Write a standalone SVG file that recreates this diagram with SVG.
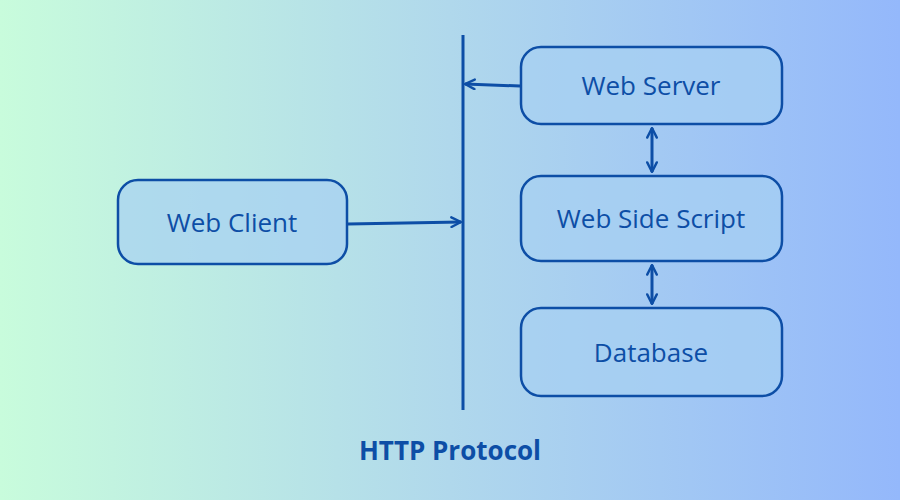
<svg xmlns="http://www.w3.org/2000/svg" width="900" height="500" viewBox="0 0 900 500">
<defs>
<linearGradient id="bg" x1="0" y1="0" x2="1" y2="0"><stop offset="0" stop-color="#c8fcdc"/><stop offset="0.5" stop-color="#b0d8ec"/><stop offset="1" stop-color="#94b8fb"/></linearGradient>
<marker id="ah" viewBox="0 0 10 10" refX="9" refY="5" markerWidth="4" markerHeight="4" orient="auto-start-reverse"><path d="M1 1 L9 5 L1 9" fill="none" stroke="#0d4ea6" stroke-width="2" stroke-linecap="round" stroke-linejoin="round"/></marker>
<style>
.box{fill:#a6d0f2;fill-opacity:0.7;stroke:#0d4ea6;stroke-width:2.5}
.t{font-family:"Open Sans","Liberation Sans",sans-serif;font-size:26px;fill:#0d4ea6;text-anchor:middle;dominant-baseline:central}
.c{stroke:#0d4ea6;stroke-width:3;fill:none}
</style>
</defs>
<rect width="900" height="500" fill="url(#bg)"/>
<g id="connectors">
<line class="c" x1="463" y1="35" x2="463" y2="410"/>
<line class="c" x1="520" y1="86" x2="465" y2="84" marker-end="url(#ah)"/>
<line class="c" x1="348" y1="224" x2="461" y2="222" marker-end="url(#ah)"/>
<line class="c" x1="652" y1="128" x2="652" y2="172" marker-start="url(#ah)" marker-end="url(#ah)"/>
<line class="c" x1="652" y1="265" x2="652" y2="304" marker-start="url(#ah)" marker-end="url(#ah)"/>
</g>
<g id="web-server"><rect class="box" x="521" y="47" width="261" height="77" rx="20"/><text class="t" x="651" y="85">Web Server</text></g>
<g id="web-side-script"><rect class="box" x="521" y="176" width="261" height="85" rx="20"/><text class="t" x="651" y="218">Web Side Script</text></g>
<g id="database"><rect class="box" x="521" y="308" width="261" height="88" rx="20"/><text class="t" x="651" y="352">Database</text></g>
<g id="web-client"><rect class="box" x="118" y="180" width="229" height="84" rx="20"/><text class="t" x="232" y="222">Web Client</text></g>
<text x="450" y="450" font-family="'Open Sans','Liberation Sans',sans-serif" font-size="26" font-weight="bold" fill="#0d4ea6" text-anchor="middle" dominant-baseline="central">HTTP Protocol</text>
</svg>
